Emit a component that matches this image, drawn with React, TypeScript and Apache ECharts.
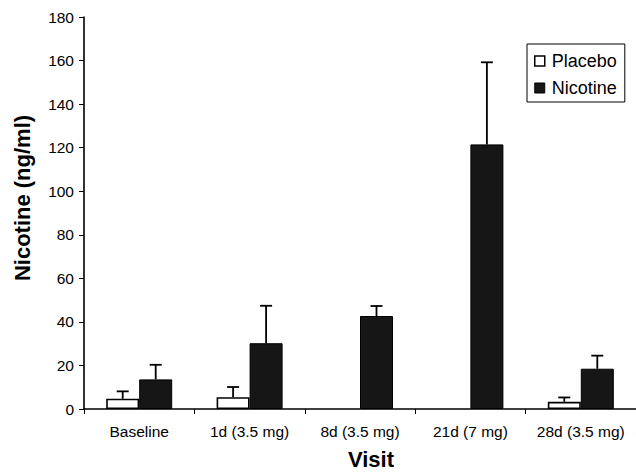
import React, { useEffect, useRef } from "react";
import * as echarts from "echarts";

const categories = ["Baseline", "1d (3.5 mg)", "8d (3.5 mg)", "21d (7 mg)", "28d (3.5 mg)"];
const placeboMean = [4.7, 5.4, null, null, 3.3];
const placeboSD = [3.4, 4.7, null, null, 2.0];
const nicotineMean = [13.6, 30.2, 42.7, 121.5, 18.5];
const nicotineSD = [6.7, 17.2, 4.6, 37.7, 6.0];
const yTicks = { min: 0, max: 180, interval: 20 };

const FONT = "'Liberation Sans', Arial, Helvetica, sans-serif";
const BAR_W = 33;

function errorSeries(name: string, means: (number | null)[], sds: (number | null)[], offset: number) {
  const data = means
    .map((m, i) => (m == null || sds[i] == null ? null : [i, m, sds[i]]))
    .filter((d) => d !== null);
  return {
    type: "custom",
    name,
    z: 5,
    silent: true,
    data,
    encode: { x: 0, y: 1 },
    renderItem: (params: any, api: any) => {
      const idx = api.value(0);
      const v = api.value(1);
      const e = api.value(2);
      const top = api.coord([idx, v]);
      const cap = api.coord([idx, v + e]);
      const x = top[0] + offset;
      const st = { stroke: "#000", lineWidth: 1.8 };
      return {
        type: "group",
        children: [
          { type: "line", shape: { x1: x, y1: top[1], x2: x, y2: cap[1] }, style: st },
          { type: "line", shape: { x1: x - 6, y1: cap[1], x2: x + 6, y2: cap[1] }, style: st },
        ],
      };
    },
  };
}

export default function App() {
  const ref = useRef<HTMLDivElement>(null);
  useEffect(() => {
    if (!ref.current) return;
    const chart = echarts.init(ref.current, undefined, { renderer: "svg" });
    chart.setOption({
      animation: false,
      backgroundColor: "#fff",
      textStyle: { fontFamily: FONT, color: "#000" },
      grid: { left: 84, top: 17, width: 555, height: 392, containLabel: false },
      legend: {
        orient: "vertical",
        left: 527,
        top: 44,
        padding: [7, 8, 4, 7],
        itemWidth: 10,
        itemHeight: 10,
        itemGap: 7,
        icon: "rect",
        borderColor: "#000",
        borderWidth: 1,
        backgroundColor: "#fff",
        textStyle: { fontFamily: FONT, fontSize: 18, color: "#000", lineHeight: 20, padding: [0, 0, 0, 2] },
        data: [
          { name: "Placebo", itemStyle: { color: "#fff", borderColor: "#000", borderWidth: 1.5 } },
          { name: "Nicotine", itemStyle: { color: "#161616", borderColor: "#000", borderWidth: 1 } },
        ],
      },
      xAxis: {
        type: "category",
        data: categories,
        boundaryGap: true,
        axisLine: { lineStyle: { color: "#000", width: 1.6 } },
        axisTick: { show: true, length: 5, alignWithLabel: false, lineStyle: { color: "#000", width: 1 } },
        axisLabel: { color: "#000", fontSize: 15.5, fontFamily: FONT, margin: 14, interval: 0 },
        splitLine: { show: false },
      },
      yAxis: {
        type: "value",
        min: yTicks.min,
        max: yTicks.max,
        interval: yTicks.interval,
        axisLine: { show: true, lineStyle: { color: "#000", width: 1.6 } },
        axisTick: { show: true, length: 5, lineStyle: { color: "#000", width: 1 } },
        axisLabel: { color: "#000", fontSize: 15.5, fontFamily: FONT, margin: 10 },
        splitLine: { show: false },
      },
      graphic: [
        {
          type: "text",
          x: 22,
          y: 198,
          rotation: Math.PI / 2,
          style: {
            text: "Nicotine (ng/ml)",
            fontFamily: FONT,
            fontSize: 22,
            fontWeight: "bold",
            fill: "#000",
            align: "center",
            verticalAlign: "middle",
          },
        },
        {
          type: "text",
          x: 371,
          y: 459,
          style: {
            text: "Visit",
            fontFamily: FONT,
            fontSize: 22,
            fontWeight: "bold",
            fill: "#000",
            align: "center",
            verticalAlign: "middle",
          },
        },
      ],
      series: [
        {
          type: "bar",
          name: "Placebo",
          data: placeboMean,
          barWidth: BAR_W,
          barGap: "0%",
          itemStyle: { color: "#fff", borderColor: "#000", borderWidth: 1.6 },
        },
        {
          type: "bar",
          name: "Nicotine",
          data: nicotineMean,
          barWidth: BAR_W,
          barGap: "0%",
          itemStyle: { color: "#161616", borderColor: "#000", borderWidth: 1 },
        },
        errorSeries("PlaceboErr", placeboMean, placeboSD, -BAR_W / 2),
        errorSeries("NicotineErr", nicotineMean, nicotineSD, BAR_W / 2),
      ],
    });
    return () => chart.dispose();
  }, []);
  return <div ref={ref} style={{ width: 636, height: 472, position: "absolute", left: 0, top: 0 }} />;
}
